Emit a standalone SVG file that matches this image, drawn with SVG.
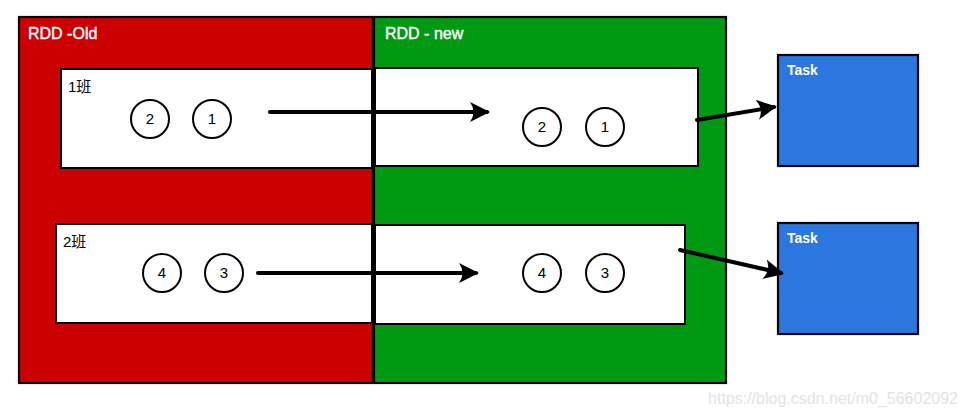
<svg xmlns="http://www.w3.org/2000/svg" width="967" height="416" viewBox="0 0 967 416">
<defs>
<style>
.box{stroke:#000;stroke-width:2.2}
.inner{fill:#fff;stroke:#000;stroke-width:2}
.c{fill:#fff;stroke:#000;stroke-width:2}
.num{font-family:"Liberation Sans",Arial,sans-serif;font-size:15px;fill:#000;text-anchor:middle}
.title{font-family:"Liberation Sans",Arial,sans-serif;font-size:16px;fill:#fff;stroke:#fff;stroke-width:0.4}
.task{font-family:"Liberation Sans",Arial,sans-serif;font-size:14px;font-weight:bold;fill:#fff}
.cls{font-family:"Liberation Sans","Noto Sans CJK SC",sans-serif;font-size:15px;fill:#000}
.conn{stroke:#000;stroke-width:4;stroke-linecap:round;fill:none}
</style>
<marker id="ah" viewBox="0 0 10 10" refX="8.5" refY="5" markerWidth="5" markerHeight="5" orient="auto" markerUnits="strokeWidth">
<path d="M0,0 Q6,3 10,5 Q6,7 0,10 Q3.5,5 0,0 Z" fill="#000"/>
</marker>
</defs>
<rect width="967" height="416" fill="#fff"/>
<g id="rdd-old">
<rect class="box" x="19" y="17" width="354" height="366" fill="#CC0000"/>
<text class="title" x="28" y="39">RDD -Old</text>
</g>
<g id="rdd-new">
<rect class="box" x="374" y="17" width="352" height="366" fill="#009A12"/>
<text class="title" x="385" y="39">RDD - new</text>
</g>
<g id="old-p1">
<rect class="inner" x="61" y="69" width="311" height="99"/>
<text class="cls" x="68" y="92">1班</text>
<circle class="c" cx="150" cy="119" r="19"/><text class="num" x="150" y="124">2</text>
<circle class="c" cx="212" cy="119" r="19"/><text class="num" x="212" y="124">1</text>
</g>
<g id="new-p1">
<rect class="inner" x="375" y="68" width="323" height="98"/>
<circle class="c" cx="542" cy="127" r="19"/><text class="num" x="542" y="132">2</text>
<circle class="c" cx="605" cy="127" r="19"/><text class="num" x="605" y="132">1</text>
</g>
<g id="old-p2">
<rect class="inner" x="56" y="224" width="316" height="99"/>
<text class="cls" x="63" y="247">2班</text>
<circle class="c" cx="162" cy="273" r="19"/><text class="num" x="162" y="278">4</text>
<circle class="c" cx="224" cy="273" r="19"/><text class="num" x="224" y="278">3</text>
</g>
<g id="new-p2">
<rect class="inner" x="375" y="225" width="310" height="99"/>
<circle class="c" cx="542" cy="273" r="19"/><text class="num" x="542" y="278">4</text>
<circle class="c" cx="605" cy="273" r="19"/><text class="num" x="605" y="278">3</text>
</g>
<g id="task1">
<rect class="box" x="778" y="55" width="140" height="111" fill="#2C76DF"/>
<text class="task" x="787" y="75">Task</text>
</g>
<g id="task2">
<rect class="box" x="778" y="223" width="140" height="111" fill="#2C76DF"/>
<text class="task" x="787" y="243">Task</text>
</g>
<g id="connectors">
<line class="conn" x1="270" y1="112" x2="487" y2="112" marker-end="url(#ah)"/>
<line class="conn" x1="258" y1="273" x2="476" y2="273" marker-end="url(#ah)"/>
<line class="conn" x1="697" y1="120" x2="774" y2="107" marker-end="url(#ah)"/>
<line class="conn" x1="680" y1="250" x2="781" y2="273" marker-end="url(#ah)"/>
</g>
<text x="958" y="404" text-anchor="end" font-family="Liberation Sans,Arial,sans-serif" font-size="16" fill="#e3e3e3">https://blog.csdn.net/m0_56602092</text>
</svg>
